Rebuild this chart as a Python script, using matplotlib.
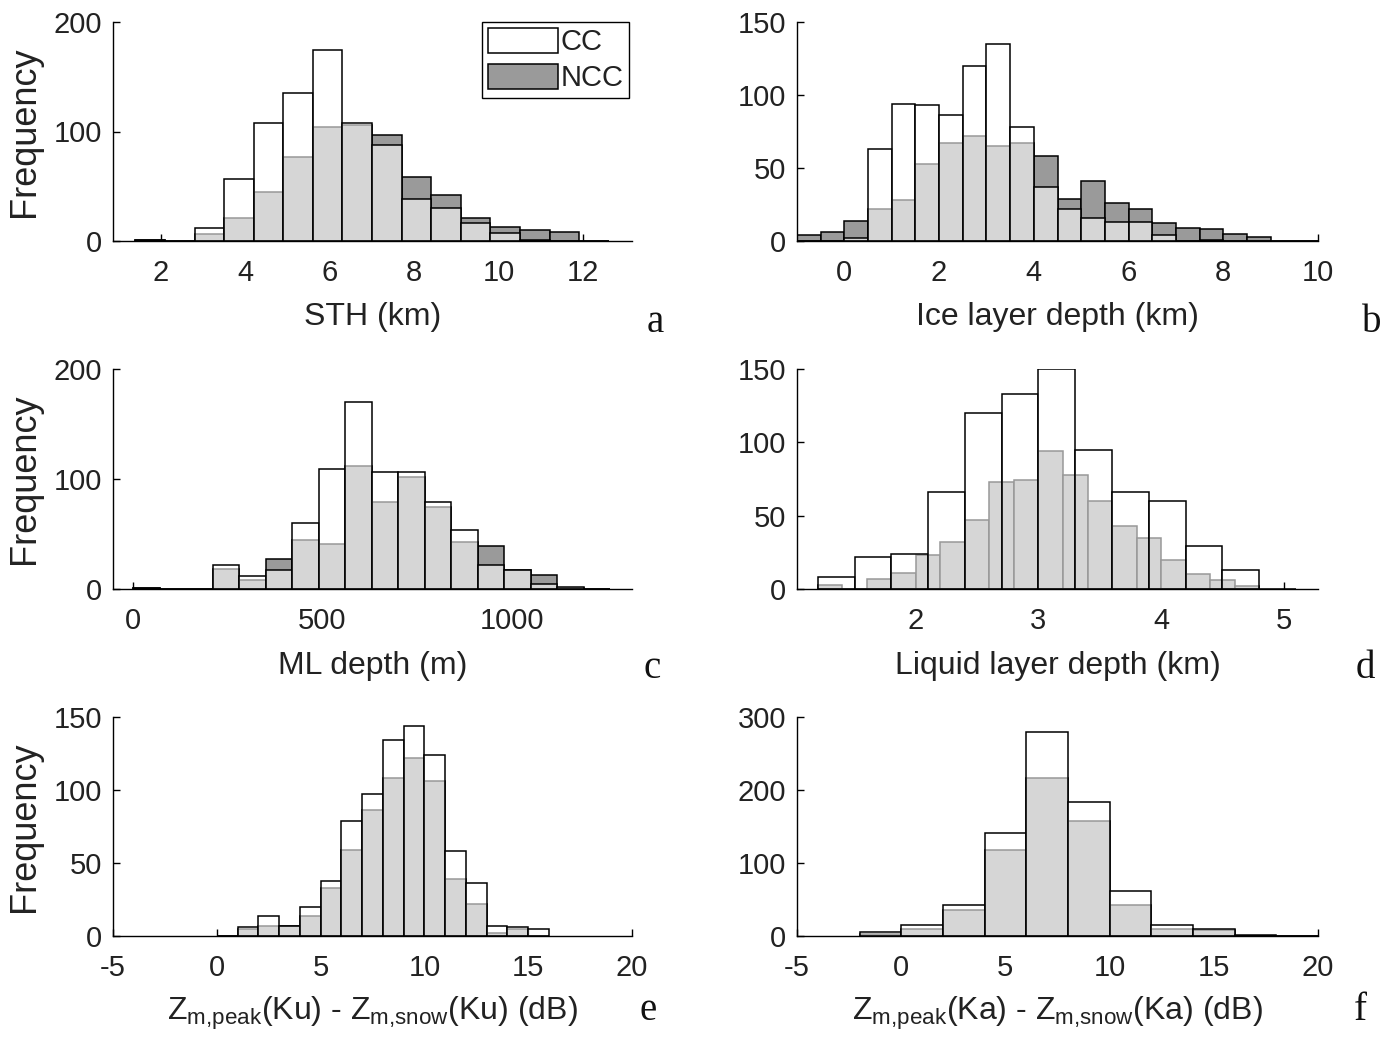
import matplotlib
matplotlib.use('Agg')
import matplotlib.pyplot as plt
from matplotlib import font_manager

# ---------------- data ----------------
# (a) STH (km)
sth_edges = [1.4, 2.1, 2.8, 3.5, 4.2, 4.9, 5.6, 6.3, 7.0, 7.7, 8.4, 9.1, 9.8, 10.5, 11.2, 11.9, 12.6]
sth_cc = [1, 0, 12, 57, 108, 135, 174, 108, 88, 38, 30, 16, 7, 1, 0, 0]
sth_ncc = [1, 0, 6, 21, 45, 77, 104, 106, 97, 58, 42, 21, 13, 10, 8, 0]

# (b) Ice layer depth (km)
ice_edges = [-1.0, -0.5, 0.0, 0.5, 1.0, 1.5, 2.0, 2.5, 3.0, 3.5, 4.0, 4.5, 5.0, 5.5,
             6.0, 6.5, 7.0, 7.5, 8.0, 8.5, 9.0, 9.5, 10.0]
ice_cc = [0, 0, 2, 63, 94, 93, 86, 120, 135, 78, 37, 22, 16, 13, 13, 4, 0, 1, 0, 0, 0, 0]
ice_ncc = [4, 6, 14, 22, 28, 53, 67, 72, 65, 67, 58, 29, 41, 26, 22, 12, 9, 8, 5, 3, 0, 0]

# (c) ML depth (m)
ml_edges = [0, 70, 140, 210, 280, 350, 420, 490, 560, 630, 700, 770, 840, 910, 980,
            1050, 1120, 1190, 1260]
ml_cc = [1, 0, 0, 22, 12, 17, 60, 109, 170, 106, 106, 79, 54, 22, 17, 5, 2, 0]
ml_ncc = [1, 0, 0, 18, 8, 27, 45, 41, 112, 79, 102, 75, 43, 39, 17, 13, 1, 0]

# (d) Liquid layer depth (km) -- CC and NCC use different bins
liq_cc_edges = [1.2, 1.5, 1.8, 2.1, 2.4, 2.7, 3.0, 3.3, 3.6, 3.9, 4.2, 4.5, 4.8, 5.1]
liq_cc = [8, 22, 24, 66, 120, 133, 150, 95, 66, 60, 29, 13, 0]
liq_ncc_edges = [1.2, 1.4, 1.6, 1.8, 2.0, 2.2, 2.4, 2.6, 2.8, 3.0, 3.2, 3.4, 3.6, 3.8,
                 4.0, 4.2, 4.4, 4.6, 4.8]
liq_ncc = [3, 0, 7, 11, 23, 32, 47, 73, 74, 94, 78, 60, 43, 35, 20, 10, 6, 2]

# (e) Zm,peak(Ku) - Zm,snow(Ku) (dB)
ku_edges = [0, 1, 2, 3, 4, 5, 6, 7, 8, 9, 10, 11, 12, 13, 14, 15, 16]
ku_cc = [0, 6, 14, 7, 20, 38, 79, 97, 134, 144, 124, 58, 36, 7, 6, 5]
ku_ncc = [0, 5, 7, 7, 14, 33, 59, 86, 108, 122, 106, 39, 22, 2, 5, 0]

# (f) Zm,peak(Ka) - Zm,snow(Ka) (dB)
ka_edges = [-2, 0, 2, 4, 6, 8, 10, 12, 14, 16, 18, 20]
ka_cc = [5, 15, 42, 141, 280, 183, 62, 15, 10, 1, 0]
ka_ncc = [3, 9, 36, 118, 217, 158, 43, 9, 8, 0, 0]

# ---------------- style ----------------
avail = {f.name for f in font_manager.fontManager.ttflist}
tick_font = 'Liberation Sans Narrow' if 'Liberation Sans Narrow' in avail else 'Liberation Sans'
label_font = 'Liberation Sans'
serif_font = 'Liberation Serif' if 'Liberation Serif' in avail else 'DejaVu Serif'
plt.rcParams['axes.unicode_minus'] = False
plt.rcParams['mathtext.fontset'] = 'custom'
plt.rcParams['mathtext.rm'] = label_font

NCC_COLOR = '#9a9a9a'
CC_FACE = (1, 1, 1, 0.6)
LW = 1.1
TXT = '#222222'

fig = plt.figure(figsize=(13.97, 10.40), dpi=100)
W, H = 1397.0, 1040.0


def make_ax(x0, x1, ytop, ybot):
    return fig.add_axes([x0 / W, 1 - ybot / H, (x1 - x0) / W, (ybot - ytop) / H])


def hist_bars(ax, edges, vals, face, z):
    lefts = edges[:-1]
    widths = [edges[i + 1] - edges[i] for i in range(len(vals))]
    return ax.bar(lefts, vals, width=widths, align='edge', facecolor=face,
                  edgecolor='black', linewidth=LW, zorder=z)


def style(ax, xlim, ylim, xticks, yticks, xlabel, ylabel=True):
    ax.set_xlim(*xlim)
    ax.set_ylim(*ylim)
    ax.set_xticks(xticks)
    ax.set_yticks(yticks)
    for s in ['top', 'right']:
        ax.spines[s].set_visible(False)
    for s in ['left', 'bottom']:
        ax.spines[s].set_linewidth(1.0)
        ax.spines[s].set_zorder(5)
    ax.tick_params(direction='in', length=5, width=1.0)
    ax.tick_params(axis='x', pad=13)
    ax.tick_params(axis='y', pad=8)
    for t in ax.get_xticklabels() + ax.get_yticklabels():
        t.set_fontfamily(tick_font)
        t.set_fontsize(21)
        t.set_color(TXT)
    ax.set_xlabel(xlabel, fontfamily=label_font, fontsize=23, color=TXT, va='baseline')
    ax.xaxis.set_label_coords(0.5, -0.385)
    if ylabel:
        ax.set_ylabel('Frequency', fontfamily=label_font, fontsize=26, color=TXT)
        ax.yaxis.set_label_coords(-0.137, 0.5)


LX0, LX1 = 113, 632
RX0, RX1 = 797, 1318
rows = [(22, 241), (369, 589), (717, 936)]

# (a)
ax = make_ax(LX0, LX1, *rows[0])
ncc_b = hist_bars(ax, sth_edges, sth_ncc, NCC_COLOR, 2)
cc_b = hist_bars(ax, sth_edges, sth_cc, CC_FACE, 3)
style(ax, (0.87, 13.15), (0, 200), [2, 4, 6, 8, 10, 12], [0, 100, 200], 'STH (km)')
leg = ax.legend([cc_b, ncc_b], ['CC', 'NCC'], loc='upper right', bbox_to_anchor=(0.995, 1.0),
                borderaxespad=0, fancybox=False, framealpha=1, edgecolor='black',
                handlelength=2.4, handleheight=0.95, handletextpad=0.1, labelspacing=0.25,
                borderpad=0.2, prop={'family': tick_font, 'size': 21})
leg.get_frame().set_linewidth(1.0)
for t in leg.get_texts():
    t.set_color(TXT)
leg.set_zorder(10)

# (b)
ax = make_ax(RX0, RX1, *rows[0])
hist_bars(ax, ice_edges, ice_ncc, NCC_COLOR, 2)
hist_bars(ax, ice_edges, ice_cc, CC_FACE, 3)
style(ax, (-1, 10), (0, 150), [0, 2, 4, 6, 8, 10], [0, 50, 100, 150], 'Ice layer depth (km)', False)

# (c)
ax = make_ax(LX0, LX1, *rows[1])
hist_bars(ax, ml_edges, ml_ncc, NCC_COLOR, 2)
hist_bars(ax, ml_edges, ml_cc, CC_FACE, 3)
style(ax, (-53, 1317), (0, 200), [0, 500, 1000], [0, 100, 200], 'ML depth (m)')

# (d)
ax = make_ax(RX0, RX1, *rows[1])
hist_bars(ax, liq_ncc_edges, liq_ncc, NCC_COLOR, 2)
hist_bars(ax, liq_cc_edges, liq_cc, CC_FACE, 3)
style(ax, (1.03, 5.28), (0, 150), [2, 3, 4, 5], [0, 50, 100, 150], 'Liquid layer depth (km)', False)

# (e)
ax = make_ax(LX0, LX1, *rows[2])
hist_bars(ax, ku_edges, ku_ncc, NCC_COLOR, 2)
hist_bars(ax, ku_edges, ku_cc, CC_FACE, 3)
style(ax, (-5, 20), (0, 150), [-5, 0, 5, 10, 15, 20], [0, 50, 100, 150],
      r'$\mathregular{Z_{m{,}peak}}$(Ku) - $\mathregular{Z_{m{,}snow}}$(Ku) (dB)')

# (f)
ax = make_ax(RX0, RX1, *rows[2])
hist_bars(ax, ka_edges, ka_ncc, NCC_COLOR, 2)
hist_bars(ax, ka_edges, ka_cc, CC_FACE, 3)
style(ax, (-5, 20), (0, 300), [-5, 0, 5, 10, 15, 20], [0, 100, 200, 300],
      r'$\mathregular{Z_{m{,}peak}}$(Ka) - $\mathregular{Z_{m{,}snow}}$(Ka) (dB)', False)

# panel letters
letters = [('a', 655, 332), ('b', 1372, 332), ('c', 652, 678), ('d', 1365, 678),
           ('e', 648, 1020), ('f', 1360, 1020)]
for s, px, py in letters:
    fig.text(px / W, 1 - py / H, s, fontfamily=serif_font, fontsize=28,
             ha='center', va='baseline', color='#111111')

fig.savefig('out.png', dpi=100)
